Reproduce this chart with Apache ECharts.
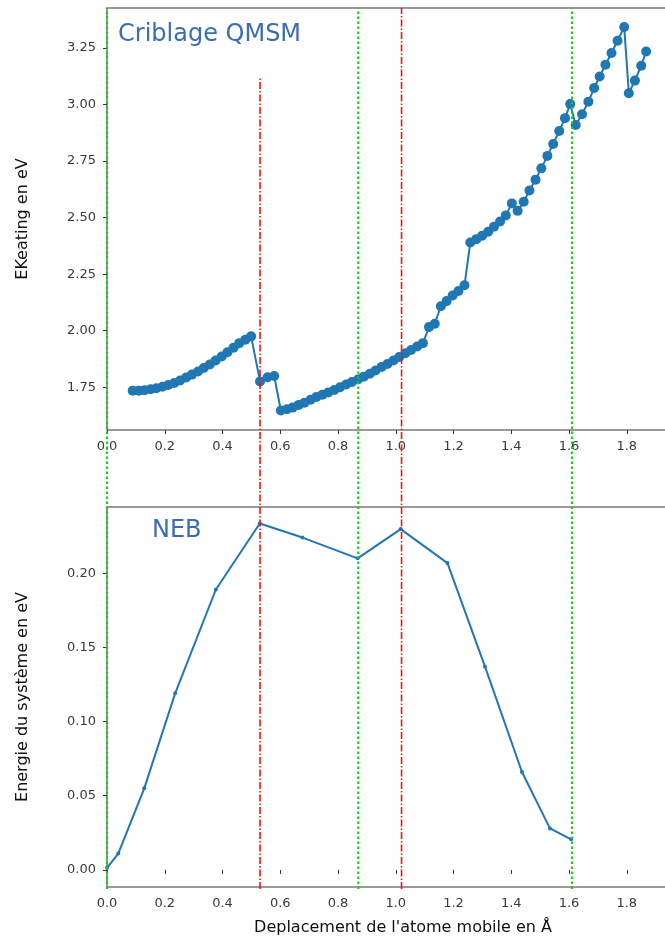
<!DOCTYPE html>
<html>
<head>
<meta charset="utf-8">
<script src="https://cdn.jsdelivr.net/npm/echarts@6/dist/echarts.min.js"></script>
<style>
html,body{margin:0;padding:0;background:#fff;overflow:hidden;}
#c{width:690px;height:940px;}
</style>
</head>
<body>
<div id="c"></div>
<script>
// ---- Data ----
const qmsmX = [0.089,0.110,0.130,0.151,0.171,0.192,0.212,0.233,0.253,0.274,0.294,0.315,0.335,0.356,0.376,0.397,0.417,0.438,0.458,0.479,0.499,
  0.530,0.556,0.579,
  0.602,0.623,0.643,0.664,0.684,0.705,0.725,0.746,0.766,0.787,0.807,0.828,0.848,0.869,0.889,0.910,0.930,0.951,0.971,0.992,1.012,
  1.033,1.053,1.074,1.094,1.115,1.135,1.156,1.176,1.197,1.217,1.238,1.258,1.279,1.299,1.320,1.340,1.361,1.381,1.402,1.422,1.443,1.463,1.484,
  1.504,1.525,1.545,1.566,1.586,1.604,1.623,1.645,1.667,1.687,1.706,1.726,1.747,1.768,1.791,1.807,1.828,1.850,1.867];
const qmsmY = [1.735,1.735,1.737,1.741,1.746,1.752,1.760,1.769,1.780,1.793,1.806,1.820,1.835,1.851,1.868,1.886,1.905,1.925,1.945,1.960,1.975,
  1.776,1.794,1.800,
  1.647,1.653,1.660,1.672,1.682,1.695,1.707,1.717,1.727,1.738,1.750,1.762,1.773,1.784,1.797,1.810,1.824,1.840,1.853,1.868,1.884,
  1.900,1.915,1.930,1.945,2.016,2.031,2.108,2.131,2.156,2.176,2.201,2.390,2.405,2.420,2.438,2.460,2.483,2.510,2.563,2.530,2.570,2.620,2.668,
  2.718,2.773,2.826,2.883,2.940,3.002,2.910,2.957,3.013,3.073,3.124,3.176,3.228,3.282,3.343,3.050,3.106,3.172,3.235];

const nebX = [0.000,0.039,0.129,0.236,0.377,0.529,0.677,0.868,1.017,1.179,1.309,1.437,1.534,1.607];
const nebY = [0.0014,0.011,0.055,0.119,0.189,0.2335,0.224,0.210,0.2297,0.2068,0.137,0.066,0.028,0.0206];

const redLinesX = [0.53, 1.02];
const greenLinesX = [0.0, 0.87, 1.61];

const xTicks = [0.0,0.2,0.4,0.6,0.8,1.0,1.2,1.4,1.6,1.8];
const yTicksTop = [1.75,2.00,2.25,2.50,2.75,3.00,3.25];
const yTicksBottom = [0.00,0.05,0.10,0.15,0.20];

const titleTop = 'Criblage QMSM';
const titleBottom = 'NEB';
const yNameTop = 'EKeating en eV';
const yNameBottom = 'Energie du système en eV';
const xName = "Deplacement de l'atome mobile en Å";

// ---- Chart ----
const FONT = 'DejaVu Sans';
const chart = echarts.init(document.getElementById('c'), null, {renderer:'canvas'});

const X_MIN = 0, X_MAX = 1.96;
const gridL = 107, gridW = 566;
const g0 = {left:gridL, top:8, width:gridW, height:422};
const g1 = {left:gridL, top:507, width:gridW, height:380};
const overlay = {left:gridL, top:8, width:gridW, height:881};

function xAxisDef(gi){
  return {
    gridIndex: gi, type:'value', min:X_MIN, max:X_MAX,
    axisLine:{show:false},
    axisTick:{show:true, inside:false, length:4, customValues:xTicks, lineStyle:{color:'#333', width:1}},
    axisLabel:{customValues:xTicks, formatter:v=>v.toFixed(1), color:'#3a3a3a', fontSize:13, fontFamily:FONT, margin:10},
    splitLine:{show:false}
  };
}
function yAxisDef(gi, min, max, ticks, name, gap){
  return {
    gridIndex: gi, type:'value', min:min, max:max,
    axisLine:{show:false},
    axisTick:{show:true, inside:false, length:4, customValues:ticks, lineStyle:{color:'#333', width:1}},
    axisLabel:{customValues:ticks, formatter:v=>v.toFixed(2), color:'#3a3a3a', fontSize:13, fontFamily:FONT, margin:11},
    splitLine:{show:false},
    name:name, nameLocation:'middle', nameGap:gap,
    nameTextStyle:{fontSize:16, fontFamily:FONT, color:'#111'}
  };
}

const vlineSeries = [];
const spanBottom = 0, spanTop = 1;
const redFirstTop = (889 - 78) / 881;
redLinesX.forEach((x,i)=>{
  vlineSeries.push({
    type:'line', xAxisIndex:2, yAxisIndex:2, silent:true, symbol:'none', z:10, clip:false,
    data:[[x,spanBottom],[x, i===0 ? redFirstTop : spanTop]],
    lineStyle:{color:'#f01515', width:1.6, type:[7,2,1.5,2]}
  });
});
greenLinesX.forEach(x=>{
  vlineSeries.push({
    type:'line', xAxisIndex:2, yAxisIndex:2, silent:true, symbol:'none', z:10, clip:false,
    data:[[x,spanBottom],[x,spanTop]],
    lineStyle:{color:'#10d010', width:2, type:[2.5,2.5]}
  });
});

const option = {
  animation:false,
  backgroundColor:'#fff',
  grid:[
    Object.assign({show:true, borderColor:'#7a7a7a', borderWidth:1.6, backgroundColor:'transparent', outerBoundsMode:'none'}, g0),
    Object.assign({show:true, borderColor:'#7a7a7a', borderWidth:1.6, backgroundColor:'transparent', outerBoundsMode:'none'}, g1),
    Object.assign({show:false, outerBoundsMode:'none'}, overlay)
  ],
  xAxis:[ xAxisDef(0), xAxisDef(1),
    {gridIndex:2, type:'value', min:X_MIN, max:X_MAX, show:false} ],
  yAxis:[
    yAxisDef(0, 1.561, 3.427, yTicksTop, yNameTop, 76),
    yAxisDef(1, -0.0115, 0.2446, yTicksBottom, yNameBottom, 76),
    {gridIndex:2, type:'value', min:0, max:1, show:false}
  ],
  series:[
    {
      type:'line', xAxisIndex:0, yAxisIndex:0, z:3,
      data: qmsmX.map((x,i)=>[x, qmsmY[i]]),
      symbol:'circle', symbolSize:10, showAllSymbol:true,
      lineStyle:{color:'#1f77b4', width:2},
      itemStyle:{color:'#1f77b4', borderWidth:0}
    },
    {
      type:'line', xAxisIndex:1, yAxisIndex:1, z:3,
      data: nebX.map((x,i)=>[x, nebY[i]]),
      symbol:'circle', symbolSize:4, showAllSymbol:true,
      lineStyle:{color:'#1f77b4', width:2},
      itemStyle:{color:'#1f77b4', borderWidth:0}
    }
  ].concat(vlineSeries),
  graphic:[
    {type:'text', left:118, top:23, z:20,
      style:{text:titleTop, fill:'#3a6db5', font:'24px "'+FONT+'"'}},
    {type:'text', left:152, top:519, z:20,
      style:{text:titleBottom, fill:'#3a6db5', font:'24px "'+FONT+'"'}},
    {type:'text', x:403, y:928, z:20,
      style:{text:xName, fill:'#111', font:'16px "'+FONT+'"', align:'center', verticalAlign:'middle'}}
  ]
};
chart.setOption(option);
</script>
</body>
</html>
